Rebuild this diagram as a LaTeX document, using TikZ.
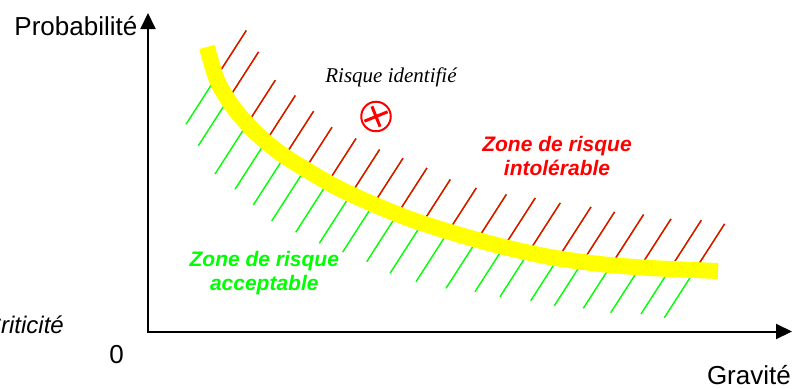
\documentclass[tikz,border=0pt]{standalone}
\usepackage{fontspec}
\setmainfont{Liberation Sans}
\newfontfamily\timesrisque{Liberation Serif}
\usepackage{tikz}
\usetikzlibrary{arrows.meta}
\definecolor{cRed}{RGB}{255,0,0}
\definecolor{cGreen}{RGB}{0,255,0}
\definecolor{cYellow}{RGB}{255,255,0}
\tikzset{
	axis/.style={line width=2pt, {Triangle[length=16pt, width=15pt]}-{Triangle[length=16pt, width=15pt]}},
	hatchred/.style={cRed, line width=1.4pt},
	hatchgreen/.style={cGreen, line width=1.4pt},
	limitcurve/.style={cYellow, line width=16pt},
	axislabel/.style={inner sep=0pt, font=\fontsize{26}{30}\selectfont},
	zonelabel/.style={inner sep=0pt, align=center, font=\fontsize{21}{23.5}\selectfont\bfseries\itshape},
	% risk marker
	riskmark/.style={circle, draw=cRed, line width=2pt, minimum size=29.5pt, inner sep=0pt},
}
\newcommand\limitpath{plot[smooth] coordinates {(207,47) (217,80) (233,107) (255,132) (280,153) (310,172) (340,189) (375,205) (410,219) (450,232) (500,246) (550,257) (600,264) (650,268) (718,271)}}

\begin{document}
\begin{tikzpicture}[x=1pt, y=-1pt]
	\useasboundingbox (0,0) rectangle (799,388);
	% axes
	\coordinate (top) at (148,13);
	\coordinate (origin) at (148,331.5);
	\coordinate (right) at (792,331.5);
	\draw[axis] (top) -- (origin) -- (right);
	\node[axislabel, anchor=base east] (proba) at (137.5,35.5) {Probabilité};
	\node[axislabel, anchor=base east] (gravite) at (791,384) {Gravité};
	\node[axislabel, anchor=base] (zero) at (116.7,363.5) {0};
	\node[axislabel, anchor=base east, font=\fontsize{24}{28}\selectfont\itshape] (criticite) at (64,333) {Criticité};
	% hatching: green everywhere, red above the curve
	\foreach \bx/\by in {186/124.3, 198.3/145.7, 215/174, 235/189.3, 253.3/205, 271.7/221, 295.7/232.3, 319.3/243.3, 342.7/252, 366.7/261.7, 390/273.3, 416/281.7, 446/288.3, 475/291.7, 500/296.7, 530.7/300.7, 554.3/305.7, 583.3/308.3, 610.7/312.7, 641/314, 664.3/317.7}
		\draw[hatchgreen] (\bx,\by) -- ++(60.3,-93.8);
	\begin{scope}
		\clip \limitpath -- (799,271) -- (799,0) -- (207,0) -- cycle;
		\foreach \bx/\by in {186/124.3, 198.3/145.7, 215/174, 235/189.3, 253.3/205, 271.7/221, 295.7/232.3, 319.3/243.3, 342.7/252, 366.7/261.7, 390/273.3, 416/281.7, 446/288.3, 475/291.7, 500/296.7, 530.7/300.7, 554.3/305.7, 583.3/308.3, 610.7/312.7, 641/314, 664.3/317.7}
			\draw[hatchred] (\bx,\by) -- ++(60.3,-93.8);
	\end{scope}
	\draw[limitcurve] \limitpath;
	% identified risk
	\node[riskmark] (risque) at (376,116.5) {};
	\draw[cRed, line width=3pt] ([shift={(-11.6,4.7)}]risque.center) -- ([shift={(11.6,-4.7)}]risque.center);
	\draw[cRed, line width=3pt] ([shift={(-4.1,-10.2)}]risque.center) -- ([shift={(4.1,10.2)}]risque.center);
	\node[inner sep=0pt, anchor=base, font=\timesrisque\itshape\fontsize{21}{24}\selectfont] (risklabel) at (391,82) {Risque identifié};
	% zones
	\node[zonelabel, text=cRed] (intolerable) at (557,156) {Zone de risque\\intolérable};
	\node[zonelabel, text=cGreen] (acceptable) at (264.3,273) {Zone de risque\\acceptable};
\end{tikzpicture}
\end{document}
